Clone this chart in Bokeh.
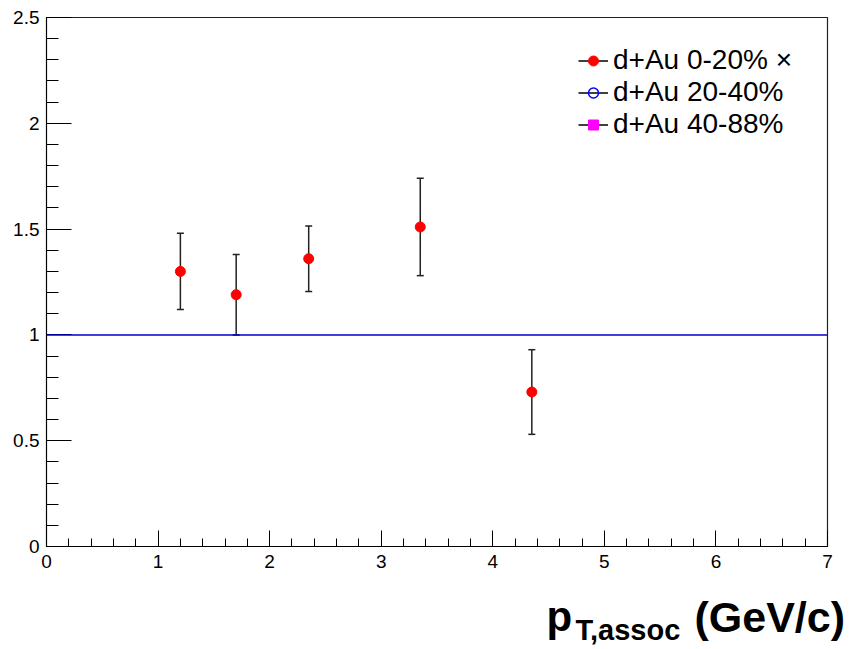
from bokeh.plotting import figure
from bokeh.layouts import column
from bokeh.models import (Range1d, SingleIntervalTicker, NumeralTickFormatter, Whisker,
                          TeeHead, ColumnDataSource, Legend, LegendItem, Label, Span)
from bokeh.embed import file_html
from bokeh.resources import INLINE

# data
pt_assoc = [1.2, 1.7, 2.35, 3.35, 4.35]
ratio_0_20 = [1.30, 1.19, 1.36, 1.51, 0.73]
err_0_20 = [0.18, 0.19, 0.155, 0.23, 0.20]
series_labels = ["d+Au 0-20% \u00d7", "d+Au 20-40%", "d+Au 40-88%"]
reference_level = 1.0
nan = float("nan")

FONT = "Liberation Sans"

p = figure(width=853, height=576, output_backend="svg", toolbar_location=None,
           x_range=Range1d(0, 7), y_range=Range1d(0, 2.5),
           min_border_left=46, min_border_top=17, min_border_right=26, min_border_bottom=30)
p.frame_align = False
p.background_fill_color = "white"
p.border_fill_color = "white"
p.outline_line_color = "#222222"
p.outline_line_width = 1.2
p.xgrid.visible = False
p.ygrid.visible = False

xa = p.xaxis[0]
xa.ticker = SingleIntervalTicker(interval=1, num_minor_ticks=5)
xa.major_tick_in = 16
xa.major_tick_out = 0
xa.minor_tick_in = 8
xa.minor_tick_out = 0
xa.major_label_standoff = 8
xa.major_label_text_font = FONT
xa.major_label_text_font_size = "19px"
xa.major_label_text_color = "black"
xa.axis_line_color = "black"
xa.major_tick_line_color = "black"
xa.minor_tick_line_color = "black"

ya = p.yaxis[0]
ya.ticker = SingleIntervalTicker(interval=0.5, num_minor_ticks=5)
ya.formatter = NumeralTickFormatter(format="0.[0]")
ya.major_tick_in = 25
ya.major_tick_out = 0
ya.minor_tick_in = 12
ya.minor_tick_out = 0
ya.major_label_standoff = 7
ya.major_label_text_font = FONT
ya.major_label_text_font_size = "19px"
ya.major_label_text_color = "black"
ya.axis_line_color = "black"
ya.major_tick_line_color = "black"
ya.minor_tick_line_color = "black"

# reference line
p.add_layout(Span(location=reference_level, dimension="width", line_color="#0000cc", line_width=1.5))

# data with error bars
upper = [v + e for v, e in zip(ratio_0_20, err_0_20)]
lower = [v - e for v, e in zip(ratio_0_20, err_0_20)]
src = ColumnDataSource(dict(x=pt_assoc, y=ratio_0_20, upper=upper, lower=lower))
p.add_layout(Whisker(source=src, base="x", upper="upper", lower="lower",
                     line_color="#222222", line_width=1.5,
                     upper_head=TeeHead(size=7, line_color="#222222", line_width=1.5),
                     lower_head=TeeHead(size=7, line_color="#222222", line_width=1.5)))
s0 = p.scatter("x", "y", source=src, marker="circle", size=10, fill_color="red", line_color="red")

# legend-only renderers (no visible data)
l0 = p.line([nan], [nan], line_color="black", line_width=1.5)
l1 = p.line([nan], [nan], line_color="black", line_width=1.5)
l2 = p.line([nan], [nan], line_color="black", line_width=1.5)
s1 = p.scatter([nan], [nan], marker="circle", size=9, fill_color=None, line_color="blue", line_width=1.5)
s2 = p.scatter([nan], [nan], marker="square", size=9, fill_color="magenta", line_color="magenta")

legend = Legend(items=[LegendItem(label=series_labels[0], renderers=[l0, s0]),
                       LegendItem(label=series_labels[1], renderers=[l1, s1]),
                       LegendItem(label=series_labels[2], renderers=[l2, s2])],
                location=(532, 406), padding=0, margin=0, spacing=0,
                glyph_width=30, glyph_height=25, label_height=29, label_standoff=5,
                label_text_font=FONT, label_text_font_size="28px", label_text_color="black",
                border_line_color=None, background_fill_alpha=0)
p.add_layout(legend)

# x axis title strip
p2 = figure(width=853, height=73, output_backend="svg", toolbar_location=None,
            x_range=Range1d(0, 1), y_range=Range1d(0, 1),
            x_axis_type=None, y_axis_type=None, min_border=0)
p2.frame_align = False
p2.outline_line_color = None
p2.grid.visible = False
p2.add_layout(Label(x=546, y=33, x_units="screen", y_units="screen", text="p",
                    text_font=FONT, text_font_style="bold", text_font_size="42px",
                    text_color="black", text_baseline="alphabetic"))
p2.add_layout(Label(x=575, y=20, x_units="screen", y_units="screen", text="T,assoc",
                    text_font=FONT, text_font_style="bold", text_font_size="29px",
                    text_color="black", text_baseline="alphabetic"))
p2.add_layout(Label(x=694, y=33, x_units="screen", y_units="screen", text="(GeV/c)",
                    text_font=FONT, text_font_style="bold", text_font_size="43px",
                    text_color="black", text_baseline="alphabetic"))

layout = column(p, p2, spacing=0)
open("out.html", "w").write(file_html(layout, INLINE))
